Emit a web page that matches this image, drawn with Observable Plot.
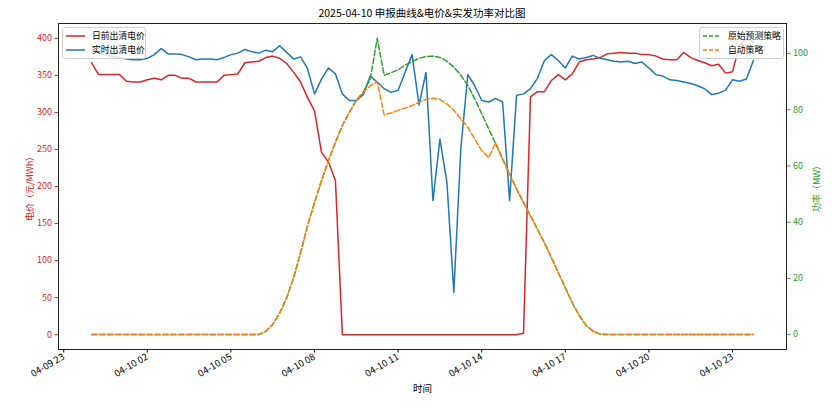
<!DOCTYPE html>
<html><head><meta charset="utf-8">
<script src="https://cdn.jsdelivr.net/npm/d3@7"></script>
<script src="https://cdn.jsdelivr.net/npm/@observablehq/plot@0.6"></script>
<style>
body{margin:0;background:#fff;font-family:"Noto Sans CJK SC","Noto Sans",sans-serif;}
#wrap{position:relative;width:832px;height:412px;overflow:hidden;background:#fff;}
#title{position:absolute;left:0;top:0;width:844px;height:20px;line-height:26px;text-align:center;font-size:10.5px;color:#000;}
#chart{position:absolute;left:0;top:20px;}
.legend{position:absolute;background:rgba(255,255,255,0.82);border:1px solid #d0d0d0;border-radius:3px;font-size:8.8px;color:#000;}
.legend .row{position:absolute;left:0;height:12px;line-height:12px;white-space:nowrap;}
.legend svg{position:absolute;top:0;}
.legend span{position:absolute;}
</style></head>
<body>
<div id="wrap">
  <div id="title">2025-04-10 申报曲线&amp;电价&amp;实发功率对比图</div>
  <div id="chart"></div>
  <div class="legend" id="legL" style="left:62px;top:27px;width:82px;height:30px;"></div>
  <div class="legend" id="legR" style="left:699px;top:27px;width:83px;height:30px;"></div>
</div>
<script>
// ---- data (15-minute points, 2025-04-10 00:00 .. 23:45) ----
const startTime = "2025-04-10T00:00:00Z";
const stepMinutes = 15;

const dayAheadPrice = [
  367,351,351,351, 351,342,341,341, 344,346,344,350, 350,346,346,341,
  341,341,341,350, 351,352,367,368, 369,374,376,373, 366,354,341,320,
  302,246,233,208, 0,0,0,0, 0,0,0,0, 0,0,0,0,
  0,0,0,0, 0,0,0,0, 0,0,0,0, 0,0,2,321,
  328,328,343,351, 344,352,368,371, 372,374,379,380, 381,380,380,378,
  378,376,372,371, 371,381,374,370, 367,363,365,353, 355,390,400,395
];
const realTimePrice = [
  385,381,377,375, 374,372,371,371, 373,378,386,379, 379,378,375,371,
  372,372,371,374, 378,380,385,382, 380,384,382,390, 381,372,375,359,
  325,345,360,352, 325,316,316,324, 349,341,332,327, 330,354,378,310,
  354,181,264,206, 57,251,351,336, 316,314,319,314, 181,323,325,332,
  346,370,378,370, 360,376,372,374, 377,373,371,369, 368,369,366,368,
  360,351,349,344, 343,341,339,336, 332,324,326,330, 344,342,345,370
];
const originalPlan = [
  0,0,0,0, 0,0,0,0, 0,0,0,0, 0,0,0,0,
  0,0,0,0, 0,0,0,0, 0,1.2,3.6,7.7, 13.1,20.2,29.1,38.7,
  47.0,54.8,61.9,68.4, 74.4,79.1,83.3,86.3, 91.0,105.4,92.3,93.2, 94.2,95.9,97.1,98.3,
  98.9,99.1,98.6,97.3, 95.2,92.3,88.7,83.9, 78.6,73.2,67.9,62.5, 57.1,51.8,47.0,42.3,
  37.5,32.7,27.4,22.0, 16.6,11.3,6.8,3.2, 1.2,0.2,0,0, 0,0,0,0,
  0,0,0,0, 0,0,0,0, 0,0,0,0, 0,0,0,0
];
const autoPlan = [
  0,0,0,0, 0,0,0,0, 0,0,0,0, 0,0,0,0,
  0,0,0,0, 0,0,0,0, 0,1.2,3.6,7.7, 13.1,20.2,29.1,38.7,
  47.0,54.8,61.9,68.4, 74.4,79.1,83.3,86.3, 88.5,90.0,78.2,78.9, 79.8,80.6,81.5,82.7,
  83.7,84.1,83.7,82.1, 79.8,76.8,73.8,69.6, 65.5,63.0,68.2,62.5, 57.1,51.8,47.0,42.3,
  37.5,32.7,27.4,22.0, 16.6,11.3,6.8,3.2, 1.2,0.2,0,0, 0,0,0,0,
  0,0,0,0, 0,0,0,0, 0,0,0,0, 0,0,0,0
];
const xTicks = ["2025-04-09T23:00Z","2025-04-10T02:00Z","2025-04-10T05:00Z","2025-04-10T08:00Z",
  "2025-04-10T11:00Z","2025-04-10T14:00Z","2025-04-10T17:00Z","2025-04-10T20:00Z","2025-04-10T23:00Z"];
const priceTicks = [0,50,100,150,200,250,300,350,400];
const powerTicks = [0,20,40,60,80,100];
const seriesNames = ["日前出清电价","实时出清电价","原始预测策略","自动策略"];
const colors = {da:"#d62728", rt:"#1f77b4", orig:"#2ca02c", auto:"#ff7f0e"};

// ---- scales ----
const xDomain = [new Date("2025-04-09T22:48:45Z"), new Date("2025-04-11T00:56:15Z")];
const priceDomain = [-20, 420];
const powerDomain = [-5.3, 110.7];
const toPrice = p => priceDomain[0] + (p - powerDomain[0]) / (powerDomain[1] - powerDomain[0]) * (priceDomain[1] - priceDomain[0]);
const fromPrice = v => powerDomain[0] + (v - priceDomain[0]) / (priceDomain[1] - priceDomain[0]) * (powerDomain[1] - powerDomain[0]);

const t0 = new Date(startTime).getTime();
const rows = dayAheadPrice.map((v, i) => ({
  t: new Date(t0 + i * stepMinutes * 60000),
  da: v, rt: realTimePrice[i], orig: toPrice(originalPlan[i]), auto: toPrice(autoPlan[i])
}));

const dash = "5.5,2.4";
const chart = Plot.plot({
  width: 832, height: 392,
  marginLeft: 58, marginRight: 46, marginTop: 3, marginBottom: 63,
  style: {fontFamily: '"Noto Sans CJK SC","Noto Sans",sans-serif', fontSize: "9px", background: "#fff", color: "#000"},
  x: {type: "utc", domain: xDomain},
  y: {domain: priceDomain},
  marks: [
    Plot.lineY(rows, {x: "t", y: "da", stroke: colors.da, strokeWidth: 1.5}),
    Plot.lineY(rows, {x: "t", y: "rt", stroke: colors.rt, strokeWidth: 1.5}),
    Plot.lineY(rows, {x: "t", y: "orig", stroke: colors.orig, strokeWidth: 1.5, strokeDasharray: dash}),
    Plot.lineY(rows, {x: "t", y: "auto", stroke: colors.auto, strokeWidth: 1.5, strokeDasharray: dash}),
    Plot.frame({stroke: "#222", strokeWidth: 1}),
    Plot.axisX({ticks: xTicks.map(s => new Date(s)), tickFormat: d3.utcFormat("%m-%d %H"),
      tickRotate: -30, tickSize: 3.5, tickPadding: 3, fontSize: 9.5, label: "时间", labelAnchor: "center",
      labelArrow: "none", labelOffset: 42}),
    Plot.axisY({anchor: "left", ticks: priceTicks, tickSize: 3.5, tickPadding: 3, color: colors.da,
      label: "电价（元/MWh）", labelAnchor: "center", labelArrow: "none", labelOffset: 32}),
    Plot.axisY({anchor: "right", ticks: powerTicks.map(toPrice), tickFormat: v => String(Math.round(fromPrice(v))),
      tickSize: 3.5, tickPadding: 3, color: colors.orig,
      label: "功率（MW）", labelAnchor: "center", labelArrow: "none", labelOffset: 33})
  ]
});
document.getElementById("chart").appendChild(chart);

// ---- legends ----
function legend(id, items, sampleX0, sampleX1, textX) {
  const el = document.getElementById(id);
  items.forEach((it, k) => {
    const top = 2 + k * 14;
    const row = document.createElement("div");
    row.className = "row"; row.style.top = top + "px"; row.style.width = "100%";
    row.innerHTML = `<svg width="${sampleX1 + 2}" height="12" style="left:0"><line x1="${sampleX0}" x2="${sampleX1}" y1="6" y2="6" stroke="${it.color}" stroke-width="1.5" ${it.dash ? `stroke-dasharray="${it.dash}"` : ""}/></svg><span style="left:${textX}px">${it.name}</span>`;
    el.appendChild(row);
  });
}
legend("legL", [{name: seriesNames[0], color: colors.da}, {name: seriesNames[1], color: colors.rt}], 3, 22, 29);
legend("legR", [{name: seriesNames[2], color: colors.orig, dash: "4,2"}, {name: seriesNames[3], color: colors.auto, dash: "4,2"}], 3, 20, 28);
</script>
</body></html>
